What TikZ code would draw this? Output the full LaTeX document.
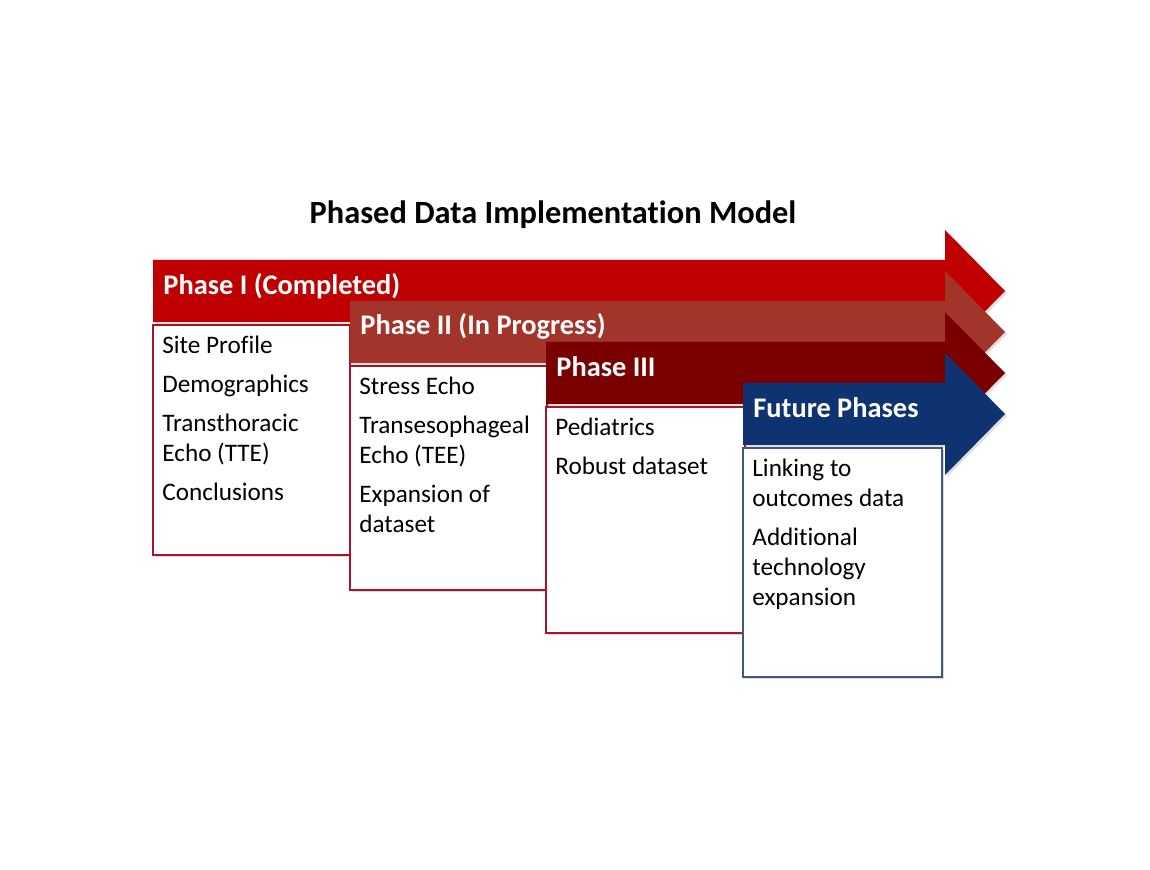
\documentclass[tikz,border=0pt]{standalone}
\usepackage{fontspec}
\setmainfont[Ligatures=NoCommon]{Carlito}
\usepackage{tikz}
\usetikzlibrary{shadows}
\definecolor{phaseone}{HTML}{C00000}
\definecolor{phasetwo}{HTML}{A3342A}
\definecolor{phasethree}{HTML}{7A0000}
\definecolor{phasefuture}{HTML}{0E3370}
\definecolor{boxred}{HTML}{A3152A}
\definecolor{boxblue}{HTML}{44587A}
\newcommand{\titlefont}{\fontsize{16.2}{19}\selectfont\bfseries}
\newcommand{\phasefont}{\fontsize{14.2}{17}\selectfont\bfseries}
\newcommand{\itemfont}{\fontsize{12.6}{15}\selectfont}

\begin{document}
\begin{tikzpicture}[x=0.5pt, y=-0.5pt,
    phasetitle/.style={font=\phasefont, text=white, anchor=base west, inner sep=0},
    itemlist/.style={font=\itemfont, anchor=north west, align=left, inner sep=0},
    phasebox/.style={fill=white, line width=0.6pt, drop shadow={shadow xshift=1pt, shadow yshift=-1pt, opacity=0.3}},
    arrowshadow/.style={drop shadow={shadow xshift=1pt, shadow yshift=-1pt, opacity=0.25}}]
    \useasboundingbox[fill=white] (0,0) rectangle (1150,870);
    \node[font=\titlefont, anchor=base] (title) at (553,224) {Phased Data Implementation Model};
    % phase I
    \fill[phaseone, arrowshadow] (153,260) -- (945,260) -- (945,230) -- (1005,291) -- (945,352) -- (945,322) -- (153,322) -- cycle;
    \node[phasetitle] (p1) at (163,295) {Phase I (Completed)};
    \draw[phasebox, draw=boxred] (153,325) rectangle (350,555);
    \node[itemlist] (l1) at (162,332) {\strut Site Profile\\[4.5pt] Demographics\\[4.5pt] Transthoracic\\ Echo (TTE)\\[4.5pt] Conclusions};
    % phase II
    \fill[phasetwo, arrowshadow] (350,301) -- (945,301) -- (945,271) -- (1005,332) -- (945,393) -- (945,363) -- (350,363) -- cycle;
    \node[phasetitle] (p2) at (360,335) {Phase II (In Progress)};
    \draw[phasebox, draw=boxred] (350,366) rectangle (547,590);
    \node[itemlist] (l2) at (359,373) {\strut Stress Echo\\[4.5pt] Transesophageal\\ Echo (TEE)\\[4.5pt] Expansion of\\ dataset};
    % phase III
    \fill[phasethree, arrowshadow] (546,342) -- (945,342) -- (945,312) -- (1005,373) -- (945,434) -- (945,404) -- (546,404) -- cycle;
    \node[phasetitle] (p3) at (556,377) {Phase III};
    \draw[phasebox, draw=boxred] (546,407) rectangle (745,633);
    \node[itemlist] (l3) at (555,414) {\strut Pediatrics\\[4.5pt] Robust dataset};
    % future phases
    \fill[phasefuture, arrowshadow] (743,383) -- (945,383) -- (945,353) -- (1005,414) -- (945,475) -- (945,445) -- (743,445) -- cycle;
    \node[phasetitle] (p4) at (753,418) {Future Phases};
    \draw[phasebox, draw=boxblue] (743,448) rectangle (942,677);
    \node[itemlist] (l4) at (752,455) {\strut Linking to\\ outcomes data\\[4.5pt] Additional\\ technology\\ expansion};
\end{tikzpicture}
\end{document}
